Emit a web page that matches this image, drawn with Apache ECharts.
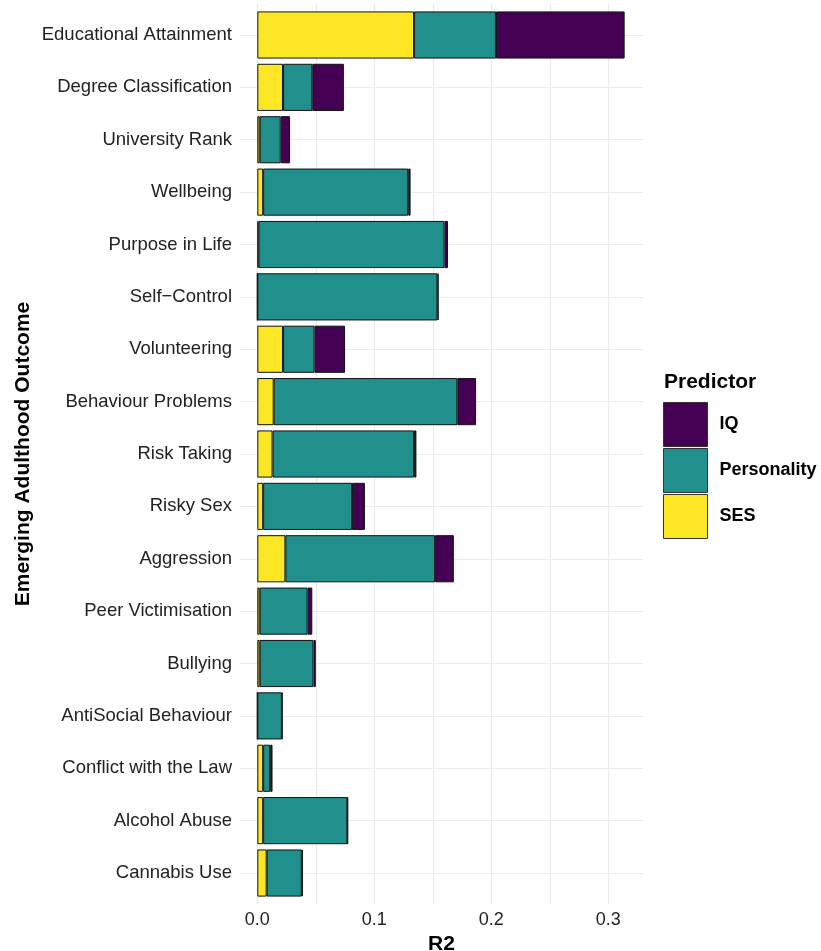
<!DOCTYPE html>
<html>
<head>
<meta charset="utf-8">
<script src="https://cdn.jsdelivr.net/npm/echarts@6/dist/echarts.min.js"></script>
<style>
  html, body { margin: 0; padding: 0; background: #fff; }
  #chart { width: 821px; height: 951px; }
</style>
</head>
<body>
<div id="chart"></div>
<script>
// Outcomes, listed top to bottom
const outcomes = [
  'Educational Attainment', 'Degree Classification', 'University Rank', 'Wellbeing',
  'Purpose in Life', 'Self\u2212Control', 'Volunteering', 'Behaviour Problems',
  'Risk Taking', 'Risky Sex', 'Aggression', 'Peer Victimisation', 'Bullying',
  'AntiSocial Behaviour', 'Conflict with the Law', 'Alcohol Abuse', 'Cannabis Use'
];

// Variance explained (R2) by each predictor block
const sesR2 =         [0.134, 0.022, 0.002, 0.005, 0.001, 0.000, 0.022, 0.014, 0.013, 0.005, 0.024, 0.002, 0.002, 0.000, 0.005, 0.005, 0.008];
const personalityR2 = [0.070, 0.025, 0.018, 0.124, 0.159, 0.154, 0.027, 0.157, 0.121, 0.076, 0.128, 0.041, 0.046, 0.021, 0.006, 0.072, 0.030];
const iqR2 =          [0.110, 0.027, 0.008, 0.002, 0.003, 0.001, 0.026, 0.016, 0.002, 0.011, 0.016, 0.004, 0.002, 0.0005, 0.002, 0.0005, 0.001];

const legendOrder = ['IQ', 'Personality', 'SES'];
const xTitle = 'R2';
const yTitle = 'Emerging Adulthood Outcome';
const legendTitle = 'Predictor';

const FONT = '"Liberation Sans", Arial, Helvetica, sans-serif';
const GRID_LINE = '#ebebeb';
const X_MIN = -0.0148, X_MAX = 0.3297;

const chart = echarts.init(document.getElementById('chart'), null, { renderer: 'canvas' });

function barSeries(name, values, color) {
  return {
    name: name,
    type: 'bar',
    stack: 'r2',
    xAxisIndex: 0,
    yAxisIndex: 0,
    barWidth: '90%',
    data: values,
    itemStyle: { color: color, borderColor: '#111', borderWidth: 1 }
  };
}

chart.setOption({
  animation: false,
  backgroundColor: '#ffffff',
  textStyle: { fontFamily: FONT },
  grid: [
    { left: 240, right: 178, top: 8.8, bottom: 51.8, containLabel: false, outerBoundsMode: 'none' },
    { left: 240, right: 178, top: 3.6, bottom: 46.6, containLabel: false, outerBoundsMode: 'none' }
  ],
  xAxis: [
    {
      type: 'value', gridIndex: 0, min: X_MIN, max: X_MAX,
      axisLine: { show: false }, axisTick: { show: false },
      splitLine: { show: false },
      axisLabel: {
        margin: 12, fontSize: 18, color: '#222', fontFamily: FONT,
        showMinLabel: false, showMaxLabel: false,
        formatter: function (v) {
          const t = v * 10;
          return Math.abs(t - Math.round(t)) < 1e-6 && v >= -1e-9 ? v.toFixed(1) : '';
        }
      },
      name: xTitle, nameLocation: 'middle', nameGap: 29,
      nameTextStyle: { fontSize: 21, fontWeight: 'bold', color: '#000', fontFamily: FONT }
    },
    {
      type: 'value', gridIndex: 1, min: X_MIN, max: X_MAX,
      axisLine: { show: false }, axisTick: { show: false }, axisLabel: { show: false },
      splitLine: { show: true, showMinLine: false, showMaxLine: false, lineStyle: { color: GRID_LINE, width: 1.2 } }
    }
  ],
  yAxis: [
    {
      type: 'category', gridIndex: 0, data: outcomes, inverse: true,
      axisLine: { show: false }, axisTick: { show: false },
      axisLabel: { margin: 8, fontSize: 18.5, color: '#222', fontFamily: FONT },
      splitLine: { show: true, alignWithLabel: true, lineStyle: { color: GRID_LINE, width: 1.2 } },
      name: yTitle, nameLocation: 'middle', nameGap: 206, nameRotate: 90,
      nameTextStyle: { fontSize: 21, fontWeight: 'bold', color: '#000', fontFamily: FONT }
    },
    {
      type: 'value', gridIndex: 1, min: 0, max: 1, show: false,
      splitLine: { show: false }
    }
  ],
  legend: {
    orient: 'vertical', left: 663, top: 402, padding: 0,
    data: legendOrder,
    itemWidth: 44, itemHeight: 44, itemGap: 1,
    icon: 'rect',
    selectedMode: false,
    itemStyle: { borderColor: '#333', borderWidth: 1 },
    textStyle: { fontSize: 18, fontWeight: 'bold', color: '#000', fontFamily: FONT, padding: [0, 0, 0, 7] }
  },
  graphic: [
    {
      type: 'text', left: 664, top: 372,
      style: { text: legendTitle, font: 'bold 21px ' + FONT, fill: '#000' }
    }
  ],
  series: [
    barSeries('SES', sesR2, '#FDE725'),
    barSeries('Personality', personalityR2, '#21908C'),
    barSeries('IQ', iqR2, '#440154')
  ]
});
</script>
</body>
</html>
